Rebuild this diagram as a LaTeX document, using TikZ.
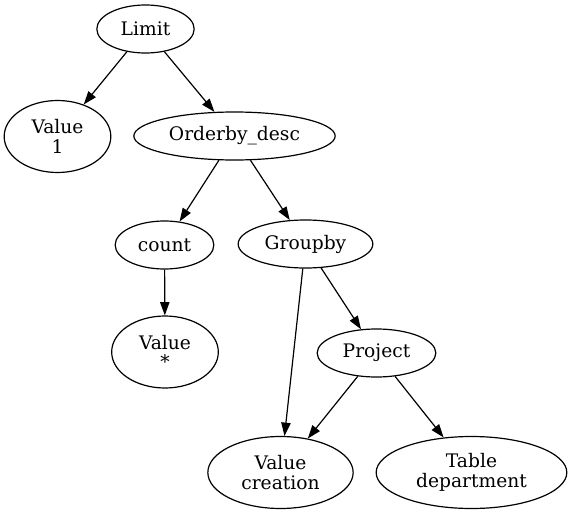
\documentclass[tikz,border=0pt]{standalone}
\usepackage{fontspec}
\setmainfont{DejaVu Serif}
\usetikzlibrary{shapes.geometric,arrows.meta}
\tikzset{
	op/.style={draw, ellipse, inner sep=0pt, minimum height=36pt, line width=0.9pt,
		font=\fontsize{14pt}{14.5pt}\selectfont, align=center},
	leaf/.style={op, minimum height=54pt},
	edge/.style={-{Triangle[length=10pt,width=7pt]}, line width=0.9pt}
}
\begin{document}
\begin{tikzpicture}[x=0.75pt,y=-0.75pt]
			\useasboundingbox (0,0) rectangle (572,514);
			
			%Top
			\node[op, minimum width=73pt] (Limit) at (145.5,29) {Limit};
			\node[leaf, minimum width=80pt] (V1) at (57.5,136.5) {Value\\1};
			\node[op, minimum width=151pt] (Orderby) at (234.5,136) {Orderby\_desc};
			
			%Middle
			\node[op, minimum width=74pt] (Count) at (164.5,245) {count};
			\node[op, minimum width=101pt] (Groupby) at (305.5,244) {Groupby};
			\node[leaf, minimum width=80pt] (Vstar) at (165,352) {Value\\*};
			\node[op, minimum width=89pt] (Project) at (376.5,353) {Project};
			
			%Bottom
			\node[leaf, minimum width=109pt] (Vcreation) at (280.5,472.5) {Value\\creation};
			\node[leaf, minimum width=143pt] (Tdept) at (471.5,472.5) {Table\\department};
			
			%Edges
			\draw[edge] (Limit) -- (V1);
			\draw[edge] (Limit) -- (Orderby);
			\draw[edge] (Orderby) -- (Count);
			\draw[edge] (Orderby) -- (Groupby);
			\draw[edge] (Count) -- (Vstar);
			\draw[edge] (Groupby) -- (Vcreation);
			\draw[edge] (Groupby) -- (Project);
			\draw[edge] (Project) -- (Vcreation);
			\draw[edge] (Project) -- (Tdept);
			
\end{tikzpicture}
\end{document}
